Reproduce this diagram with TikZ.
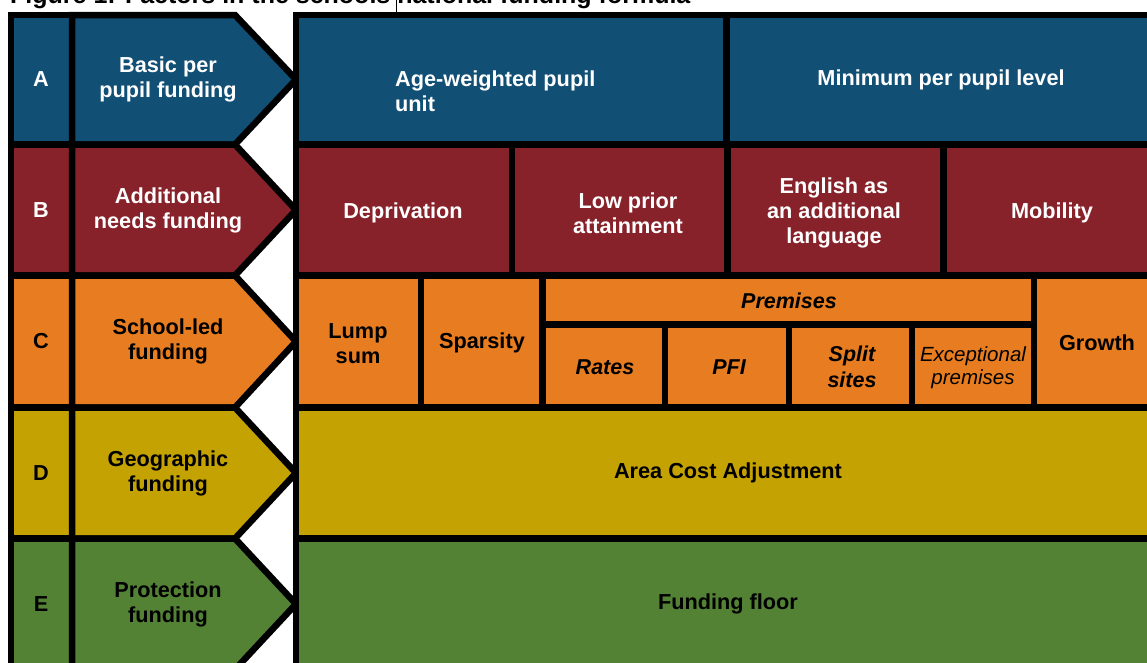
\documentclass[tikz,border=0pt]{standalone}
\usepackage{fontspec}
\setmainfont{Liberation Sans}
\definecolor{cA}{RGB}{17,79,117}
\definecolor{cB}{RGB}{135,34,42}
\definecolor{cC}{RGB}{231,125,32}
\definecolor{cD}{RGB}{196,162,2}
\definecolor{cE}{RGB}{83,130,52}
\begin{document}
\begin{tikzpicture}[x=1pt,y=-1pt,
 cell/.style={draw=black,line width=6.5pt},
 lbl/.style={font=\fontsize{21.7}{25}\selectfont\bfseries, align=center, inner sep=0pt},
 wt/.style={lbl,text=white},
 bk/.style={lbl,text=black},
 itb/.style={bk,font=\fontsize{21.5}{25.5}\selectfont\bfseries\itshape},
 itr/.style={bk,font=\fontsize{20.5}{23}\selectfont\itshape}]
\useasboundingbox (0,0) rectangle (1147,662);
\clip (0,0) rectangle (1147,662);
\fill[white] (0,0) rectangle (1147,662);
% title (cut off by the top edge)
\node[anchor=base west, inner sep=0pt, font=\fontsize{25}{28}\selectfont\bfseries] (title) at (10,3.3) {Figure 1: Factors in the schools national funding formula};
\coordinate (cur1) at (396,0);
\coordinate (cur2) at (396,15);
\draw[line width=1pt] (cur1) -- (cur2);
% letter column
\draw[cell,fill=cA] (11,15) rectangle (72,144.5);
\draw[cell,fill=cB] (11,144.5) rectangle (72,275.5);
\draw[cell,fill=cC] (11,275.5) rectangle (72,407.5);
\draw[cell,fill=cD] (11,407.5) rectangle (72,538.5);
\draw[cell,fill=cE] (11,538.5) rectangle (72,669.5);
% chevrons
\draw[cell,fill=cA] (72,15) -- (235,15) -- (296,79.5) -- (235,144.5) -- (72,144.5) -- cycle;
\draw[cell,fill=cB] (72,144.5) -- (235,144.5) -- (296,210) -- (235,275.5) -- (72,275.5) -- cycle;
\draw[cell,fill=cC] (72,275.5) -- (235,275.5) -- (296,341.5) -- (235,407.5) -- (72,407.5) -- cycle;
\draw[cell,fill=cD] (72,407.5) -- (235,407.5) -- (296,473) -- (235,538.5) -- (72,538.5) -- cycle;
\draw[cell,fill=cE] (72,538.5) -- (235,538.5) -- (296,604) -- (235,669.5) -- (72,669.5) -- cycle;
% row A
\draw[cell,fill=cA] (296,15) rectangle (726.5,144.5);
\draw[cell,fill=cA] (726.5,15) rectangle (1160,144.5);
% row B
\draw[cell,fill=cB] (296,144.5) rectangle (512,275.5);
\draw[cell,fill=cB] (512,144.5) rectangle (727.5,275.5);
\draw[cell,fill=cB] (727.5,144.5) rectangle (943.5,275.5);
\draw[cell,fill=cB] (943.5,144.5) rectangle (1160,275.5);
% row C
\draw[cell,fill=cC] (296,275.5) rectangle (421,407.5);
\draw[cell,fill=cC] (421,275.5) rectangle (542.5,407.5);
\draw[cell,fill=cC] (542.5,275.5) rectangle (1034,324.5);
\draw[cell,fill=cC] (542.5,324.5) rectangle (665,407.5);
\draw[cell,fill=cC] (665,324.5) rectangle (789,407.5);
\draw[cell,fill=cC] (789,324.5) rectangle (912,407.5);
\draw[cell,fill=cC] (912,324.5) rectangle (1034,407.5);
\draw[cell,fill=cC] (1034,275.5) rectangle (1160,407.5);
% rows D, E
\draw[cell,fill=cD] (296,407.5) rectangle (1160,538.5);
\draw[cell,fill=cE] (296,538.5) rectangle (1160,669.5);
% labels
\node[wt] (lA) at (41,79.5) {A};
\node[wt] (lB) at (41,210) {B};
\node[bk] (lC) at (41,341.5) {C};
\node[bk] (lD) at (41,473) {D};
\node[bk] (lE) at (41,604) {E};
\node[wt] (hA) at (168,79.5) {Basic per\\pupil funding};
\node[wt] (hB) at (168,210) {Additional\\needs funding};
\node[bk] (hC) at (168,341.5) {School-led\\funding};
\node[bk] (hD) at (168,473) {Geographic\\funding};
\node[bk] (hE) at (168,604) {Protection\\funding};
\node[wt,align=left,anchor=west] (age) at (395,91.5) {Age-weighted pupil\\unit};
\node[wt] (minp) at (941,79.5) {Minimum per pupil level};
\node[wt] (dep) at (403,213) {Deprivation};
\node[wt] (low) at (628,213.5) {Low prior\\attainment};
\node[wt] (eal) at (834,213) {English as\\an additional\\language};
\node[wt] (mob) at (1052,213) {Mobility};
\node[bk] (lump) at (358,343.5) {Lump\\sum};
\node[bk] (spar) at (482,343) {Sparsity};
\node[itb] (prem) at (789,301) {Premises};
\node[itb] (rates) at (605,367) {Rates};
\node[itb] (pfi) at (729,367) {PFI};
\node[itb] (split) at (852,367) {Split\\sites};
\node[itr] (exc) at (973,367.5) {Exceptional\\premises};
\node[bk] (grow) at (1097,343) {Growth};
\node[bk] (aca) at (728,473) {Area Cost Adjustment};
\node[bk] (floor) at (728,604) {Funding floor};
\end{tikzpicture}
\end{document}
